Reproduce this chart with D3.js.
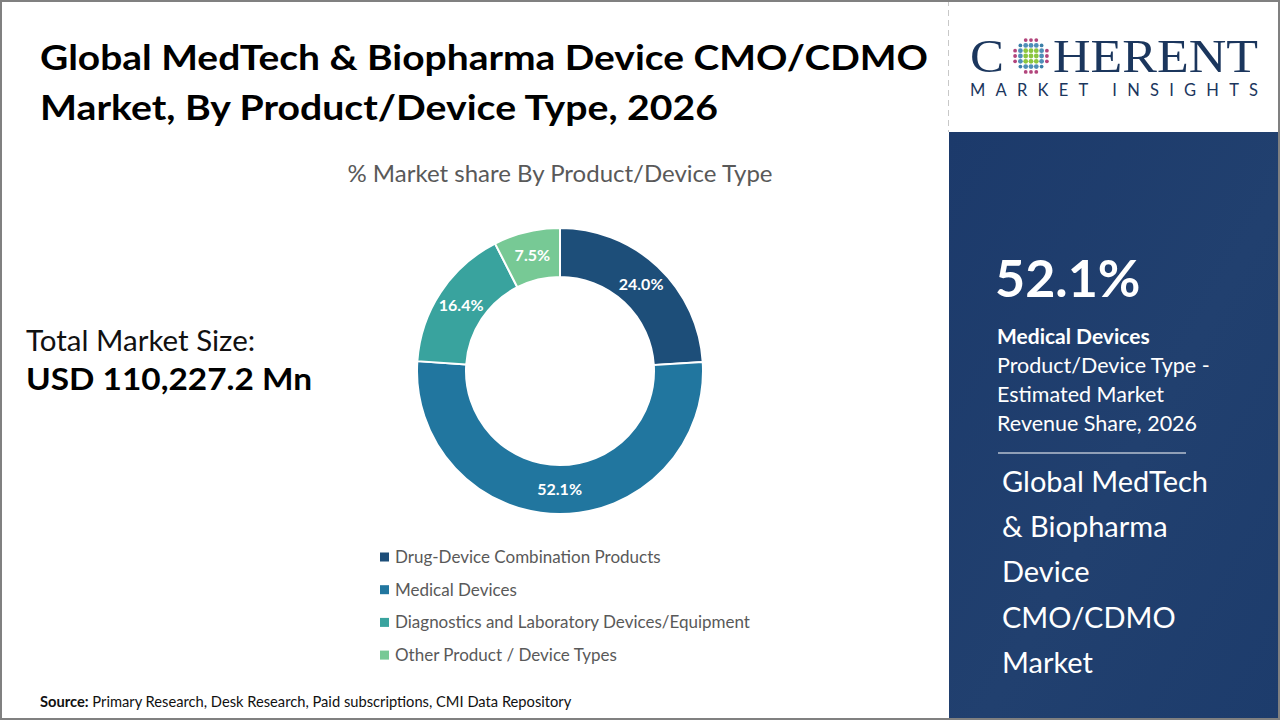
<!DOCTYPE html>
<html>
<head>
<meta charset="utf-8">
<script src="https://cdn.jsdelivr.net/npm/d3@7"></script>
<style>
  html, body { margin: 0; padding: 0; background: #fff; }
  svg { display: block; font-family: Lato, "Open Sans", sans-serif; }
</style>
</head>
<body>
<div id="chart"></div>
<script>
(function(){
    // data
    var categories = [
        'Drug-Device Combination Products',
        'Medical Devices',
        'Diagnostics and Laboratory Devices/Equipment',
        'Other Product / Device Types'
    ];
    var shares = [24.0, 52.1, 16.4, 7.5];
    var colors = ['#1d4e79', '#21769f', '#39a39e', '#77c995'];

    var titleLines = [
        'Global MedTech & Biopharma Device CMO/CDMO',
        'Market, By Product/Device Type, 2026'
    ];
    var panelLines = ['Product/Device Type -', 'Estimated Market', 'Revenue Share, 2026'];
    var marketLines = ['Global MedTech', '& Biopharma', 'Device', 'CMO/CDMO', 'Market'];

    var WIDTH  = 1280,
        HEIGHT = 720,
        CX     = 560,
        CY     = 371,
        R_OUT  = 143,
        R_IN   = 94;

    var svg = d3.select('#chart')
        .append('svg')
        .attr('width', WIDTH)
        .attr('height', HEIGHT);

    svg.append('rect').attr('width', WIDTH).attr('height', HEIGHT).attr('fill', '#fff');

    // right navy panel
    var grad = svg.append('defs').append('linearGradient')
        .attr('id', 'panelGrad').attr('x1', 0).attr('y1', 0).attr('x2', 1).attr('y2', 1);
    grad.append('stop').attr('offset', '0%').attr('stop-color', '#1c3a6b');
    grad.append('stop').attr('offset', '55%').attr('stop-color', '#21406f');
    grad.append('stop').attr('offset', '100%').attr('stop-color', '#1d3c6c');

    svg.append('rect')
        .attr('x', 949).attr('y', 132)
        .attr('width', WIDTH - 949).attr('height', HEIGHT - 132)
        .attr('fill', 'url(#panelGrad)');

    svg.append('line')
        .attr('x1', 948.5).attr('x2', 948.5).attr('y1', 0).attr('y2', 132)
        .attr('stroke', '#c8c8c8').attr('stroke-width', 1).attr('stroke-dasharray', '6,4');

    svg.append('rect')
        .attr('x', 1).attr('y', 1).attr('width', WIDTH - 2).attr('height', HEIGHT - 2)
        .attr('fill', 'none').attr('stroke', '#808080').attr('stroke-width', 2);

    // title
    svg.append('g').selectAll('text')
        .data(titleLines)
        .enter().append('text')
        .attr('x', 40)
        .attr('y', function(d, i){ return 70 + i * 50; })
        .attr('font-size', 34)
        .attr('font-weight', 700)
        .attr('fill', '#000')
        .attr('textLength', function(d, i){ return i === 0 ? 888 : 678; })
        .attr('lengthAdjust', 'spacingAndGlyphs')
        .text(function(d){ return d; });

    // chart subtitle
    svg.append('text')
        .attr('x', CX).attr('y', 182)
        .attr('text-anchor', 'middle')
        .attr('font-size', 24)
        .attr('fill', '#595959')
        .text('% Market share By Product/Device Type');

    // total market size
    svg.append('text')
        .attr('x', 26).attr('y', 351)
        .attr('font-size', 29.5)
        .attr('fill', '#111')
        .text('Total Market Size:');
    svg.append('text')
        .attr('x', 26).attr('y', 390)
        .attr('font-size', 31)
        .attr('font-weight', 700)
        .attr('fill', '#000')
        .attr('textLength', 286)
        .attr('lengthAdjust', 'spacingAndGlyphs')
        .text('USD 110,227.2 Mn');

    // donut
    var pie = d3.pie().sort(null).value(function(d){ return d; });
    var arc = d3.arc().innerRadius(R_IN).outerRadius(R_OUT);
    var labelArc = d3.arc().innerRadius((R_IN + R_OUT) / 2).outerRadius((R_IN + R_OUT) / 2);

    var donut = svg.append('g')
        .attr('transform', 'translate(' + CX + ',' + CY + ')');

    var arcs = pie(shares);

    donut.selectAll('path')
        .data(arcs)
        .enter().append('path')
        .attr('d', arc)
        .attr('fill', function(d, i){ return colors[i]; })
        .attr('stroke', '#fff')
        .attr('stroke-width', 2);

    donut.selectAll('text')
        .data(arcs)
        .enter().append('text')
        .attr('transform', function(d){ return 'translate(' + labelArc.centroid(d) + ')'; })
        .attr('text-anchor', 'middle')
        .attr('dy', '0.35em')
        .attr('font-size', 16)
        .attr('font-weight', 700)
        .attr('fill', '#fff')
        .text(function(d){ return d.data.toFixed(1) + '%'; });

    // legend
    var legend = svg.append('g').attr('transform', 'translate(380,0)');
    var row = legend.selectAll('g')
        .data(categories)
        .enter().append('g')
        .attr('transform', function(d, i){ return 'translate(0,' + (557 + i * 32.7) + ')'; });
    row.append('rect')
        .attr('x', 0).attr('y', -4.5)
        .attr('width', 9).attr('height', 9)
        .attr('fill', function(d, i){ return colors[i]; });
    row.append('text')
        .attr('x', 15).attr('dy', '0.35em')
        .attr('font-size', 17)
        .attr('fill', '#595959')
        .text(function(d){ return d; });

    // source
    var src = svg.append('text')
        .attr('x', 40).attr('y', 707)
        .attr('font-size', 14.7)
        .attr('fill', '#111');
    src.append('tspan').attr('font-weight', 700).text('Source:');
    src.append('tspan').text(' Primary Research, Desk Research, Paid subscriptions, CMI Data Repository');

    // logo
    var logo = svg.append('g');
    logo.append('text')
        .attr('x', 970).attr('y', 72)
        .attr('font-family', '"Liberation Serif", "DejaVu Serif", serif')
        .attr('font-size', 46)
        .attr('fill', '#1b365d')
        .attr('textLength', 34)
        .attr('lengthAdjust', 'spacingAndGlyphs')
        .text('C');
    logo.append('text')
        .attr('x', 1053).attr('y', 72)
        .attr('font-family', '"Liberation Serif", "DejaVu Serif", serif')
        .attr('font-size', 46)
        .attr('fill', '#1b365d')
        .attr('textLength', 205)
        .attr('lengthAdjust', 'spacingAndGlyphs')
        .text('HERENT');
    logo.append('text')
        .attr('x', 970).attr('y', 96)
        .attr('font-size', 16.5)
        .attr('fill', '#1b365d')
        .attr('textLength', 288)
        .attr('lengthAdjust', 'spacing')
        .text('MARKET INSIGHTS');

    // globe of dots
    var dots = [];
    for (var gx = -3; gx <= 3; gx++) {
        for (var gy = -3; gy <= 3; gy++) {
            var dd = Math.sqrt(gx * gx + gy * gy);
            if (dd <= 3.4) dots.push({ x: gx, y: gy, d: dd });
        }
    }
    logo.selectAll('circle')
        .data(dots)
        .enter().append('circle')
        .attr('cx', function(d){ return 1031 + d.x * 5.3; })
        .attr('cy', function(d){ return 56 + d.y * 5.3; })
        .attr('r', function(d){ return d.d > 2.8 ? 1.9 : 2.4; })
        .attr('fill', function(d){
            if (d.d <= 1.5) return '#8cc63f';
            if (d.d <= 2.3) return '#4f8fb8';
            if (d.d <= 2.9) return '#3b7fa8';
            return '#b2457c';
        });

    // right panel text
    var panel = svg.append('g').attr('fill', '#fff');
    panel.append('text')
        .attr('x', 995).attr('y', 297)
        .attr('font-size', 52)
        .attr('font-weight', 700)
        .text('52.1%');
    panel.append('text')
        .attr('x', 997).attr('y', 344)
        .attr('font-size', 21)
        .attr('font-weight', 700)
        .text(categories[1]);
    panel.selectAll('text.sub')
        .data(panelLines)
        .enter().append('text')
        .attr('class', 'sub')
        .attr('x', 997)
        .attr('y', function(d, i){ return 373 + i * 29; })
        .attr('font-size', 21.5)
        .text(function(d){ return d; });
    panel.append('line')
        .attr('x1', 998).attr('x2', 1186)
        .attr('y1', 453).attr('y2', 453)
        .attr('stroke', '#fff').attr('stroke-width', 1.2);
    panel.selectAll('text.mkt')
        .data(marketLines)
        .enter().append('text')
        .attr('class', 'mkt')
        .attr('x', 1002)
        .attr('y', function(d, i){ return 492 + i * 45.2; })
        .attr('font-size', 29)
        .text(function(d){ return d; });

})();
</script>
</body>
</html>
